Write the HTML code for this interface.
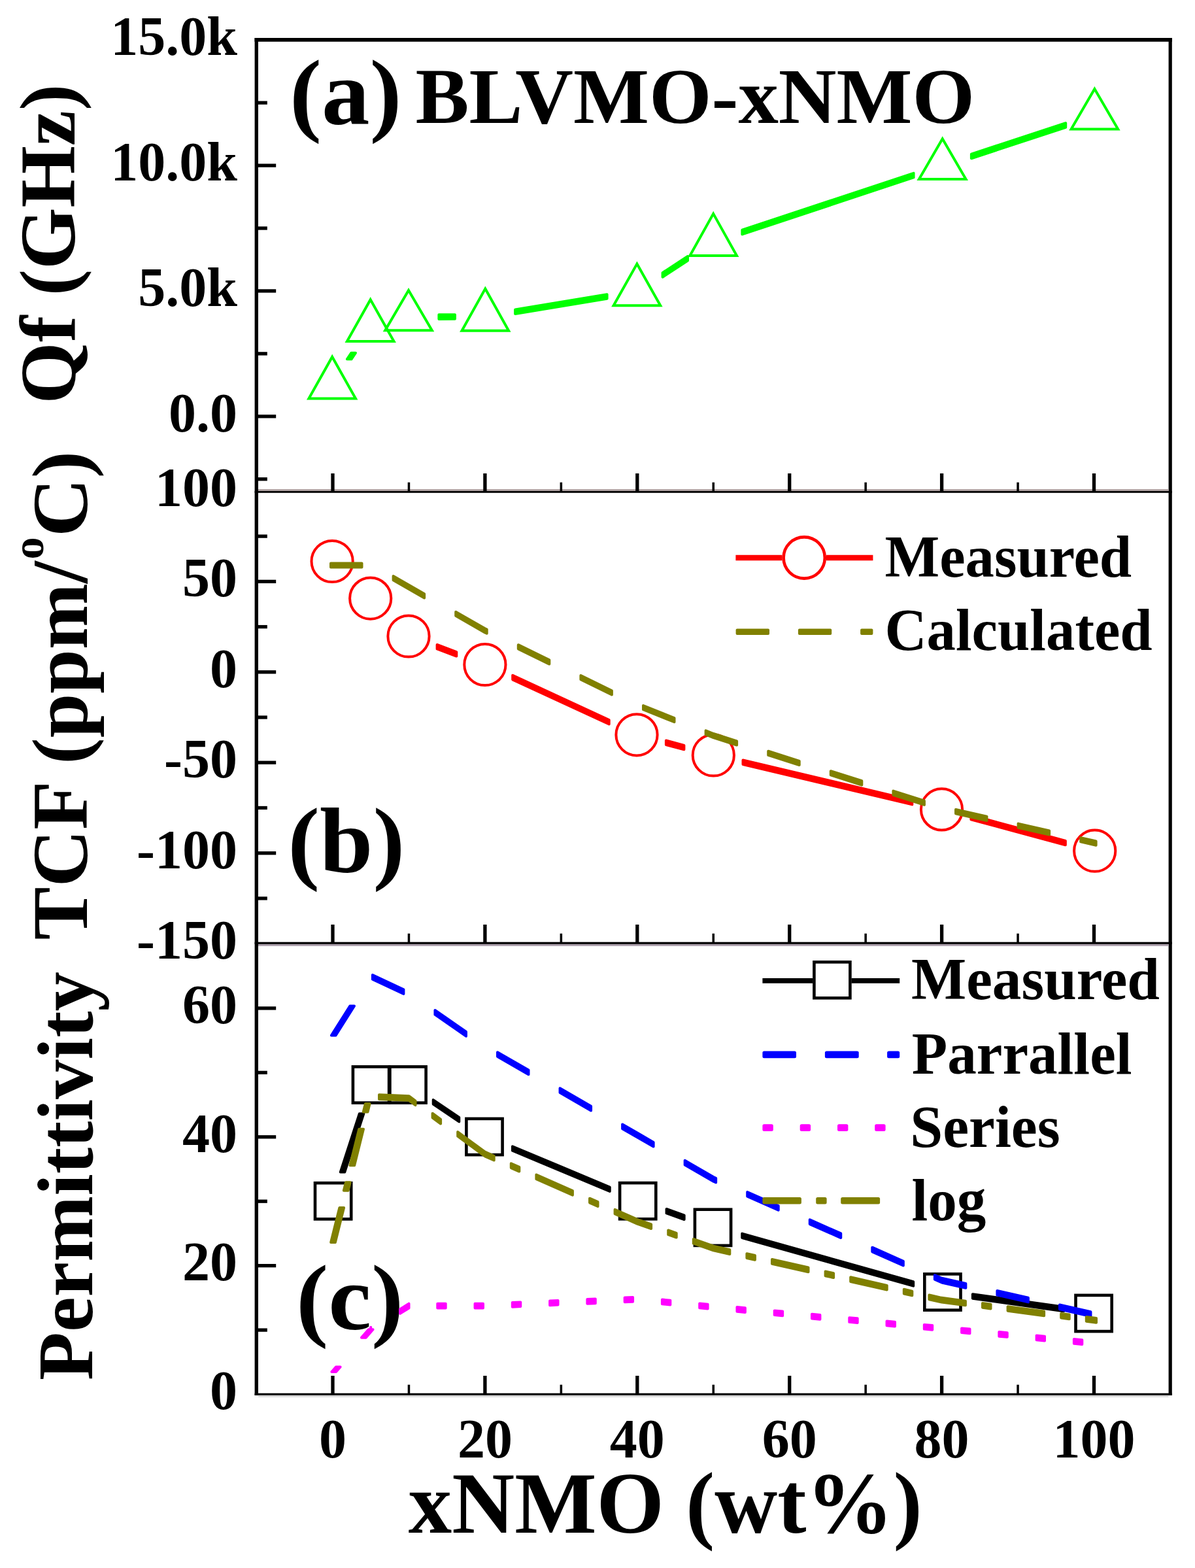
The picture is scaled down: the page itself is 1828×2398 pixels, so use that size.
<!DOCTYPE html>
<html><head><meta charset="utf-8"><title>BLVMO-xNMO</title>
<style>html,body{margin:0;padding:0;background:#fff;}svg{display:block;}</style>
</head><body>
<svg width="1828" height="2398" viewBox="0 0 1828 2398" font-family="'Liberation Serif', serif" font-weight="bold">
<rect width="1828" height="2398" fill="#fff"/>
<rect x="389.5" y="58" width="1403.5" height="5.75" fill="#000"/>
<rect x="389.6" y="58" width="5.4" height="2076" fill="#000"/>
<rect x="1787.6" y="58" width="5.2" height="2076" fill="#000"/>
<rect x="389.6" y="2130.7" width="1403.4" height="3.2" fill="#000"/>
<rect x="395" y="2133.9" width="1392.6" height="2.9" fill="#dadada"/>
<rect x="395" y="748" width="1392.6" height="2.9" fill="#b4a6a6"/>
<rect x="389.6" y="750.9" width="1403.4" height="2.85" fill="#000"/>
<rect x="389.6" y="1440.7" width="1403.4" height="3.2" fill="#000"/>
<rect x="395" y="1443.9" width="1392.6" height="2.9" fill="#a99ca9"/>
<rect x="392" y="634.15" width="30.2" height="5.3" fill="#000"/>
<rect x="392" y="442.3" width="30.2" height="5.3" fill="#000"/>
<rect x="392" y="250.45" width="30.2" height="5.3" fill="#000"/>
<rect x="392" y="730.07" width="16.8" height="5.3" fill="#000"/>
<rect x="392" y="538.23" width="16.8" height="5.3" fill="#000"/>
<rect x="392" y="346.37" width="16.8" height="5.3" fill="#000"/>
<rect x="392" y="154.52" width="16.8" height="5.3" fill="#000"/>
<rect x="392" y="886.7" width="30.2" height="5.3" fill="#000"/>
<rect x="392" y="1025.15" width="30.2" height="5.3" fill="#000"/>
<rect x="392" y="1163.6" width="30.2" height="5.3" fill="#000"/>
<rect x="392" y="1302.05" width="30.2" height="5.3" fill="#000"/>
<rect x="392" y="817.48" width="16.8" height="5.3" fill="#000"/>
<rect x="392" y="955.93" width="16.8" height="5.3" fill="#000"/>
<rect x="392" y="1094.38" width="16.8" height="5.3" fill="#000"/>
<rect x="392" y="1232.82" width="16.8" height="5.3" fill="#000"/>
<rect x="392" y="1371.27" width="16.8" height="5.3" fill="#000"/>
<rect x="392" y="1932.99" width="30.2" height="5.3" fill="#000"/>
<rect x="392" y="1736.13" width="30.2" height="5.3" fill="#000"/>
<rect x="392" y="1539.27" width="30.2" height="5.3" fill="#000"/>
<rect x="392" y="2031.42" width="16.8" height="5.3" fill="#000"/>
<rect x="392" y="1834.56" width="16.8" height="5.3" fill="#000"/>
<rect x="392" y="1637.7" width="16.8" height="5.3" fill="#000"/>
<rect x="506.35" y="724" width="5.3" height="28.3" fill="#000"/>
<rect x="739.25" y="724" width="5.3" height="28.3" fill="#000"/>
<rect x="972.15" y="724" width="5.3" height="28.3" fill="#000"/>
<rect x="1205.05" y="724" width="5.3" height="28.3" fill="#000"/>
<rect x="1437.95" y="724" width="5.3" height="28.3" fill="#000"/>
<rect x="1670.85" y="724" width="5.3" height="28.3" fill="#000"/>
<rect x="623.7" y="737.7" width="3.5" height="14.6" fill="#000"/>
<rect x="856.6" y="737.7" width="3.5" height="14.6" fill="#000"/>
<rect x="1089.5" y="737.7" width="3.5" height="14.6" fill="#000"/>
<rect x="1322.4" y="737.7" width="3.5" height="14.6" fill="#000"/>
<rect x="1555.3" y="737.7" width="3.5" height="14.6" fill="#000"/>
<rect x="506.35" y="1414" width="5.3" height="28.3" fill="#000"/>
<rect x="739.25" y="1414" width="5.3" height="28.3" fill="#000"/>
<rect x="972.15" y="1414" width="5.3" height="28.3" fill="#000"/>
<rect x="1205.05" y="1414" width="5.3" height="28.3" fill="#000"/>
<rect x="1437.95" y="1414" width="5.3" height="28.3" fill="#000"/>
<rect x="1670.85" y="1414" width="5.3" height="28.3" fill="#000"/>
<rect x="623.7" y="1427.7" width="3.5" height="14.6" fill="#000"/>
<rect x="856.6" y="1427.7" width="3.5" height="14.6" fill="#000"/>
<rect x="1089.5" y="1427.7" width="3.5" height="14.6" fill="#000"/>
<rect x="1322.4" y="1427.7" width="3.5" height="14.6" fill="#000"/>
<rect x="1555.3" y="1427.7" width="3.5" height="14.6" fill="#000"/>
<rect x="506.35" y="2104" width="5.3" height="28.3" fill="#000"/>
<rect x="739.25" y="2104" width="5.3" height="28.3" fill="#000"/>
<rect x="972.15" y="2104" width="5.3" height="28.3" fill="#000"/>
<rect x="1205.05" y="2104" width="5.3" height="28.3" fill="#000"/>
<rect x="1437.95" y="2104" width="5.3" height="28.3" fill="#000"/>
<rect x="1670.85" y="2104" width="5.3" height="28.3" fill="#000"/>
<rect x="623.7" y="2117.7" width="3.5" height="14.6" fill="#000"/>
<rect x="856.6" y="2117.7" width="3.5" height="14.6" fill="#000"/>
<rect x="1089.5" y="2117.7" width="3.5" height="14.6" fill="#000"/>
<rect x="1322.4" y="2117.7" width="3.5" height="14.6" fill="#000"/>
<rect x="1555.3" y="2117.7" width="3.5" height="14.6" fill="#000"/>
<text x="363" y="659.6" font-size="84" text-anchor="end" >0.0</text>
<text x="363" y="467.75" font-size="84" text-anchor="end" >5.0k</text>
<text x="363" y="275.9" font-size="84" text-anchor="end" >10.0k</text>
<text x="363" y="84.05" font-size="84" text-anchor="end" >15.0k</text>
<text x="363" y="773.7" font-size="84" text-anchor="end" >100</text>
<text x="363" y="912.15" font-size="84" text-anchor="end" >50</text>
<text x="363" y="1050.6" font-size="84" text-anchor="end" >0</text>
<text x="363" y="1189.05" font-size="84" text-anchor="end" >-50</text>
<text x="363" y="1327.5" font-size="84" text-anchor="end" >-100</text>
<text x="363" y="1465.95" font-size="84" text-anchor="end" >-150</text>
<text x="363" y="2155.3" font-size="84" text-anchor="end" >0</text>
<text x="363" y="1958.44" font-size="84" text-anchor="end" >20</text>
<text x="363" y="1761.58" font-size="84" text-anchor="end" >40</text>
<text x="363" y="1564.72" font-size="84" text-anchor="end" >60</text>
<text x="509" y="2228.5" font-size="84" text-anchor="middle" >0</text>
<text x="741.9" y="2228.5" font-size="84" text-anchor="middle" >20</text>
<text x="974.8" y="2228.5" font-size="84" text-anchor="middle" >40</text>
<text x="1207.7" y="2228.5" font-size="84" text-anchor="middle" >60</text>
<text x="1440.6" y="2228.5" font-size="84" text-anchor="middle" >80</text>
<text x="1673.5" y="2228.5" font-size="84" text-anchor="middle" >100</text>
<text x="624.78" y="2343.5" font-size="133" textLength="785.86" lengthAdjust="spacingAndGlyphs" >xNMO (wt%)</text>
<text transform="translate(114 617.63) rotate(-90)" x="0" y="0" font-size="121" textLength="488.97" lengthAdjust="spacingAndGlyphs">Qf (GHz)</text>
<text transform="translate(141.4 2111.07) rotate(-90)" x="0" y="0" font-size="121" textLength="625.15" lengthAdjust="spacingAndGlyphs">Permittivity</text>
<text transform="translate(133.4 1437.38) rotate(-90)" x="0" y="0" font-size="121" textLength="579.15" lengthAdjust="spacingAndGlyphs">TCF (ppm/</text>
<text transform="translate(133.4 855.61) rotate(-90)" x="0" y="-67.1" font-size="68" textLength="34.21" lengthAdjust="spacingAndGlyphs">o</text>
<text transform="translate(133.4 821.07) rotate(-90)" x="0" y="0" font-size="121" textLength="131.13" lengthAdjust="spacingAndGlyphs">C)</text>
<text x="443.04" y="190" font-size="142" textLength="171.42" lengthAdjust="spacingAndGlyphs" >(a)</text>
<text x="635.59" y="188.3" font-size="121" textLength="855.53" lengthAdjust="spacingAndGlyphs" >BLVMO-xNMO</text>
<text x="440.36" y="1334" font-size="142" textLength="178.97" lengthAdjust="spacingAndGlyphs" >(b)</text>
<text x="453" y="2032.5" font-size="142" textLength="164.2" lengthAdjust="spacingAndGlyphs" >(c)</text>
<path fill="#00ff00" stroke="#00ff00" stroke-width="4" stroke-linejoin="round" d="M530.91 549.32 L537.39 539.64 L543.99 539.64 L537.51 549.32Z M671.4 481.34 L695.9 481.22 L695.9 487.82 L671.4 487.94Z M788.11 473.44 L928.59 450.26 L928.59 456.86 L788.11 480.04Z M1013.57 417.11 L1052.03 391.99 L1052.03 398.59 L1013.57 423.71Z M1135.34 351.76 L1397.56 264.78 L1397.56 271.38 L1135.34 358.36Z M1485.89 235.63 L1630.21 188.27 L1630.21 194.87 L1485.89 242.23Z"/>
<path d="M508.2 545.7L544 609.5L472.4 609.5Z" fill="none" stroke="#00ff00" stroke-width="4" stroke-linejoin="miter"/>
<path d="M566.7 458.2L602.5 522L530.9 522Z" fill="none" stroke="#00ff00" stroke-width="4" stroke-linejoin="miter"/>
<path d="M625 444L660.8 505.3L589.2 505.3Z" fill="none" stroke="#00ff00" stroke-width="4" stroke-linejoin="miter"/>
<path d="M742.3 441.5L778.1 505.7L706.5 505.7Z" fill="none" stroke="#00ff00" stroke-width="4" stroke-linejoin="miter"/>
<path d="M974.4 403.6L1010.2 467.2L938.6 467.2Z" fill="none" stroke="#00ff00" stroke-width="4" stroke-linejoin="miter"/>
<path d="M1091.2 326.9L1127 391.1L1055.4 391.1Z" fill="none" stroke="#00ff00" stroke-width="4" stroke-linejoin="miter"/>
<path d="M1441.7 212.3L1477.5 274L1405.9 274Z" fill="none" stroke="#00ff00" stroke-width="4" stroke-linejoin="miter"/>
<path d="M1674.4 136L1710.2 197.6L1638.6 197.6Z" fill="none" stroke="#00ff00" stroke-width="4" stroke-linejoin="miter"/>
<path fill="#ff0000" stroke="#ff0000" stroke-width="4" stroke-linejoin="round" d="M668.61 985.98 L698.29 997.02 L698.29 1003.52 L668.61 992.48Z M784.2 1032.81 L931.7 1100.99 L931.7 1107.49 L784.2 1039.31Z M1018.91 1132.49 L1046.39 1139.81 L1046.39 1146.31 L1018.91 1138.99Z M1136.5 1162.48 L1395.3 1223.92 L1395.3 1230.42 L1136.5 1168.98Z M1485.36 1246.78 L1629.84 1285.82 L1629.84 1292.32 L1485.36 1253.28Z"/>
<circle cx="508.1" cy="858.5" r="31.6" fill="none" stroke="#ff0000" stroke-width="4.0"/>
<circle cx="566.7" cy="915.1" r="31.6" fill="none" stroke="#ff0000" stroke-width="4.0"/>
<circle cx="625" cy="973" r="31.6" fill="none" stroke="#ff0000" stroke-width="4.0"/>
<circle cx="741.9" cy="1016.5" r="31.6" fill="none" stroke="#ff0000" stroke-width="4.0"/>
<circle cx="974" cy="1123.8" r="31.6" fill="none" stroke="#ff0000" stroke-width="4.0"/>
<circle cx="1091.3" cy="1155" r="31.6" fill="none" stroke="#ff0000" stroke-width="4.0"/>
<circle cx="1440.5" cy="1237.9" r="31.6" fill="none" stroke="#ff0000" stroke-width="4.0"/>
<circle cx="1674.7" cy="1301.2" r="31.6" fill="none" stroke="#ff0000" stroke-width="4.0"/>
<path fill="#808000" stroke="#808000" stroke-width="4" stroke-linejoin="round" d="M506 861.4 L553.5 861.4 L553.5 867.6 L506 867.6Z M601.6 881.05 L649.1 908.19 L649.1 914.39 L601.6 887.25Z M697.2 935.66 L741.9 961.2 L741.9 967.4 L697.2 941.86Z M741.9 961.2 L744.7 962.57 L744.7 968.77 L741.9 967.4Z M792.8 986.14 L840.3 1009.41 L840.3 1015.61 L792.8 992.34Z M888.4 1032.97 L935.9 1056.24 L935.9 1062.44 L888.4 1039.17Z M984 1078.99 L1031.5 1098.03 L1031.5 1104.23 L984 1085.19Z M1079.6 1117.31 L1091.3 1122 L1091.3 1128.2 L1079.6 1123.51Z M1091.3 1122 L1127.1 1133.4 L1127.1 1139.6 L1091.3 1128.2Z M1175.2 1148.71 L1222.7 1163.83 L1222.7 1170.03 L1175.2 1154.91Z M1270.8 1179.14 L1318.3 1194.27 L1318.3 1200.47 L1270.8 1185.34Z M1366.4 1209.58 L1413.9 1224.7 L1413.9 1230.9 L1366.4 1215.78Z M1462 1238.03 L1509.5 1248.76 L1509.5 1254.96 L1462 1244.23Z M1557.6 1259.62 L1605.1 1270.35 L1605.1 1276.55 L1557.6 1265.82Z M1653.2 1281.22 L1673.5 1285.8 L1673.5 1292 L1653.2 1287.42Z M1673.5 1285.8 L1676.6 1286.5 L1676.6 1292.7 L1673.5 1292Z"/>
<line x1="1125.4" y1="853" x2="1196.5" y2="853" stroke="#ff0000" stroke-width="8.6" stroke-linecap="butt"/>
<line x1="1264" y1="853" x2="1335.4" y2="853" stroke="#ff0000" stroke-width="8.6" stroke-linecap="butt"/>
<circle cx="1230.2" cy="853" r="31.6" fill="none" stroke="#ff0000" stroke-width="4.6"/>
<rect x="1125.6" y="961.4" width="51.4" height="9.6" rx="2" fill="#808000"/>
<rect x="1220.9" y="961.4" width="51.3" height="9.6" rx="2" fill="#808000"/>
<rect x="1316.1" y="961.4" width="19.3" height="9.6" rx="2" fill="#808000"/>
<text x="1353.59" y="881.6" font-size="90" textLength="377.6" lengthAdjust="spacingAndGlyphs" >Measured</text>
<text x="1353.47" y="994" font-size="90" textLength="409.23" lengthAdjust="spacingAndGlyphs" >Calculated</text>
<path fill="#000" stroke="#000" stroke-width="4" stroke-linejoin="round" d="M520.75 1792.58 L549.85 1703.22 L556.35 1703.22 L527.25 1792.58Z M662.72 1682.06 L702.28 1708.94 L702.28 1715.44 L662.72 1688.56Z M783.96 1753.22 L932.74 1815.48 L932.74 1821.98 L783.96 1759.72Z M1019.56 1848.96 L1046.64 1858.54 L1046.64 1865.04 L1019.56 1855.46Z M1135.25 1886.62 L1397.15 1960.18 L1397.15 1966.68 L1135.25 1893.12Z M1487.87 1979.21 L1627.13 1998.79 L1627.13 2005.29 L1487.87 1985.71Z"/>
<rect x="482" y="1809.2" width="55.2" height="55.2" fill="none" stroke="#000" stroke-width="4.6"/>
<rect x="539.9" y="1631.4" width="55.2" height="55.2" fill="none" stroke="#000" stroke-width="4.6"/>
<rect x="596.4" y="1631.4" width="55.2" height="55.2" fill="none" stroke="#000" stroke-width="4.6"/>
<rect x="713.4" y="1710.9" width="55.2" height="55.2" fill="none" stroke="#000" stroke-width="4.6"/>
<rect x="948.1" y="1809.1" width="55.2" height="55.2" fill="none" stroke="#000" stroke-width="4.6"/>
<rect x="1062.9" y="1849.7" width="55.2" height="55.2" fill="none" stroke="#000" stroke-width="4.6"/>
<rect x="1414.3" y="1948.4" width="55.2" height="55.2" fill="none" stroke="#000" stroke-width="4.6"/>
<rect x="1645.5" y="1980.9" width="55.2" height="55.2" fill="none" stroke="#000" stroke-width="4.6"/>
<path fill="#0000ff" stroke="#0000ff" stroke-width="4" stroke-linejoin="round" d="M506.91 1583.5 L535.29 1538.45 L541.99 1538.45 L513.61 1583.5Z M569.9 1491.02 L617.4 1513.34 L617.4 1520.04 L569.9 1497.72Z M665.45 1544.95 L712.95 1578 L712.95 1584.7 L665.45 1551.65Z M761 1609.17 L808.5 1636.58 L808.5 1643.28 L761 1615.87Z M856.55 1664.31 L904.05 1691.72 L904.05 1698.42 L856.55 1671.01Z M952.1 1719.45 L974.8 1732.55 L974.8 1739.25 L952.1 1726.15Z M974.8 1732.55 L999.6 1746.92 L999.6 1753.62 L974.8 1739.25Z M1047.65 1774.76 L1091.3 1800.05 L1091.3 1806.75 L1047.65 1781.46Z M1091.3 1800.05 L1095.15 1801.76 L1095.15 1808.46 L1091.3 1806.75Z M1143.2 1823.04 L1190.7 1844.07 L1190.7 1850.77 L1143.2 1829.74Z M1238.75 1865.35 L1286.25 1886.39 L1286.25 1893.09 L1238.75 1872.05Z M1334.3 1907.67 L1381.8 1928.71 L1381.8 1935.41 L1334.3 1914.37Z M1429.85 1949.99 L1440.6 1954.75 L1440.6 1961.45 L1429.85 1956.69Z M1440.6 1954.75 L1477.35 1963.07 L1477.35 1969.77 L1440.6 1961.45Z M1525.4 1973.94 L1572.9 1984.69 L1572.9 1991.39 L1525.4 1980.64Z M1620.95 1995.56 L1668.45 2006.31 L1668.45 2013.01 L1620.95 2002.26Z"/>
<path fill="#ff00ff" stroke="#ff00ff" stroke-width="4" stroke-linejoin="round" d="M507.39 2098 L513.92 2090.51 L520.62 2090.51 L514.09 2098Z M553.01 2045.64 L563.85 2033.2 L570.55 2033.2 L559.71 2045.64Z M567.2 2029.85 L567.2 2029.85 L567.2 2036.55 L567.2 2036.55Z M612.03 2002.09 L625.5 1993.75 L625.5 2000.45 L612.03 2008.79Z M625.5 1993.75 L625.5 1993.75 L625.5 2000.45 L625.5 2000.45Z M669.3 1993.75 L681.7 1993.75 L681.7 2000.45 L669.3 2000.45Z M726.57 1993.75 L738.97 1993.75 L738.97 2000.45 L726.57 2000.45Z M783.84 1991.93 L796.24 1991.39 L796.24 1998.09 L783.84 1998.63Z M841.11 1989.45 L853.51 1988.91 L853.51 1995.61 L841.11 1996.15Z M898.38 1986.96 L910.78 1986.43 L910.78 1993.13 L898.38 1993.66Z M955.65 1984.48 L968.05 1983.94 L968.05 1990.64 L955.65 1991.18Z M1012.92 1987.58 L1025.32 1988.85 L1025.32 1995.55 L1012.92 1994.28Z M1070.19 1993.48 L1082.59 1994.75 L1082.59 2001.45 L1070.19 2000.18Z M1127.46 1999.05 L1139.86 2000.21 L1139.86 2006.91 L1127.46 2005.75Z M1184.73 2004.42 L1197.13 2005.59 L1197.13 2012.29 L1184.73 2011.12Z M1242 2009.8 L1254.4 2010.97 L1254.4 2017.67 L1242 2016.5Z M1299.27 2015.18 L1311.67 2016.34 L1311.67 2023.04 L1299.27 2021.88Z M1356.54 2020.56 L1368.94 2021.72 L1368.94 2028.42 L1356.54 2027.26Z M1413.81 2025.93 L1426.21 2027.1 L1426.21 2033.8 L1413.81 2032.63Z M1471.08 2031.41 L1483.48 2032.61 L1483.48 2039.31 L1471.08 2038.11Z M1528.35 2036.97 L1540.75 2038.17 L1540.75 2044.87 L1528.35 2043.67Z M1585.62 2042.52 L1598.02 2043.73 L1598.02 2050.43 L1585.62 2049.22Z M1642.89 2048.08 L1655.29 2049.28 L1655.29 2055.98 L1642.89 2054.78Z"/>
<path fill="#808000" stroke="#808000" stroke-width="4" stroke-linejoin="round" d="M506.15 1900 L519.36 1846.9 L526.06 1846.9 L512.85 1900Z M525.86 1820.8 L528.97 1808.3 L535.67 1808.3 L532.56 1820.8Z M535.47 1782.2 L549.28 1726.7 L555.98 1726.7 L542.17 1782.2Z M555.78 1700.6 L558.89 1688.1 L565.59 1688.1 L562.48 1700.6Z M580 1674.27 L625.5 1676.15 L625.5 1682.85 L580 1680.97Z M625.5 1676.15 L635.5 1683.5 L635.5 1690.2 L625.5 1682.85Z M661.6 1702.67 L674.1 1711.85 L674.1 1718.55 L661.6 1709.37Z M700.2 1731.02 L741.9 1761.65 L741.9 1768.35 L700.2 1737.72Z M741.9 1761.65 L755.7 1767.77 L755.7 1774.47 L741.9 1768.35Z M781.8 1779.35 L794.3 1784.89 L794.3 1791.59 L781.8 1786.05Z M820.4 1796.47 L875.9 1821.08 L875.9 1827.78 L820.4 1803.17Z M902 1832.66 L914.5 1838.2 L914.5 1844.9 L902 1839.36Z M940.6 1849.78 L974.8 1864.95 L974.8 1871.65 L940.6 1856.48Z M974.8 1864.95 L996.1 1872.39 L996.1 1879.09 L974.8 1871.65Z M1022.2 1881.51 L1034.7 1885.88 L1034.7 1892.58 L1022.2 1888.21Z M1060.8 1894.99 L1091.3 1905.65 L1091.3 1912.35 L1060.8 1901.69Z M1091.3 1905.65 L1116.3 1911.32 L1116.3 1918.02 L1091.3 1912.35Z M1142.4 1917.24 L1154.9 1920.07 L1154.9 1926.77 L1142.4 1923.94Z M1181 1925.99 L1236.5 1938.57 L1236.5 1945.27 L1181 1932.69Z M1262.6 1944.49 L1275.1 1947.32 L1275.1 1954.02 L1262.6 1951.19Z M1301.2 1953.24 L1356.7 1965.83 L1356.7 1972.53 L1301.2 1959.94Z M1382.8 1971.74 L1395.3 1974.58 L1395.3 1981.28 L1382.8 1978.44Z M1421.4 1980.5 L1440.6 1984.85 L1440.6 1991.55 L1421.4 1987.2Z M1440.6 1984.85 L1476.9 1989.63 L1476.9 1996.33 L1440.6 1991.55Z M1503 1993.08 L1515.5 1994.72 L1515.5 2001.42 L1503 1999.78Z M1541.6 1998.16 L1597.1 2005.48 L1597.1 2012.18 L1541.6 2004.86Z M1623.2 2008.92 L1635.7 2010.57 L1635.7 2017.27 L1623.2 2015.62Z M1661.8 2014.01 L1673.5 2015.55 L1673.5 2022.25 L1661.8 2020.71Z M1673.5 2015.55 L1677 2016.01 L1677 2022.71 L1673.5 2022.25Z"/>
<line x1="1166.4" y1="1499.8" x2="1243" y2="1499.8" stroke="#000" stroke-width="7.8" stroke-linecap="butt"/>
<line x1="1302.5" y1="1499.8" x2="1376.2" y2="1499.8" stroke="#000" stroke-width="7.8" stroke-linecap="butt"/>
<rect x="1245.4" y="1471.3" width="55" height="55" fill="none" stroke="#000" stroke-width="4.6"/>
<rect x="1166.4" y="1607.6" width="51.6" height="10.7" rx="2.5" fill="#0000ff"/>
<rect x="1261.9" y="1607.6" width="51.8" height="10.7" rx="2.5" fill="#0000ff"/>
<rect x="1357.1" y="1607.6" width="19.1" height="10.7" rx="2.5" fill="#0000ff"/>
<rect x="1166.4" y="1719.3" width="16.4" height="10.7" rx="2.5" fill="#ff00ff"/>
<rect x="1223.7" y="1719.3" width="16.4" height="10.7" rx="2.5" fill="#ff00ff"/>
<rect x="1281" y="1719.3" width="16.4" height="10.7" rx="2.5" fill="#ff00ff"/>
<rect x="1338.2" y="1719.3" width="16.4" height="10.7" rx="2.5" fill="#ff00ff"/>
<rect x="1166.4" y="1830.9" width="59.5" height="10.7" rx="2.5" fill="#808000"/>
<rect x="1248.2" y="1830.9" width="16.4" height="10.7" rx="2.5" fill="#808000"/>
<rect x="1286.2" y="1830.9" width="59.9" height="10.7" rx="2.5" fill="#808000"/>
<text x="1393.98" y="1528" font-size="90" textLength="380.02" lengthAdjust="spacingAndGlyphs" >Measured</text>
<text x="1394.73" y="1641.5" font-size="90" textLength="336.8" lengthAdjust="spacingAndGlyphs" >Parrallel</text>
<text x="1392.22" y="1754.3" font-size="90" textLength="229.47" lengthAdjust="spacingAndGlyphs" >Series</text>
<text x="1394.51" y="1866" font-size="90" textLength="113.86" lengthAdjust="spacingAndGlyphs" >log</text>
</svg>
</body></html>
